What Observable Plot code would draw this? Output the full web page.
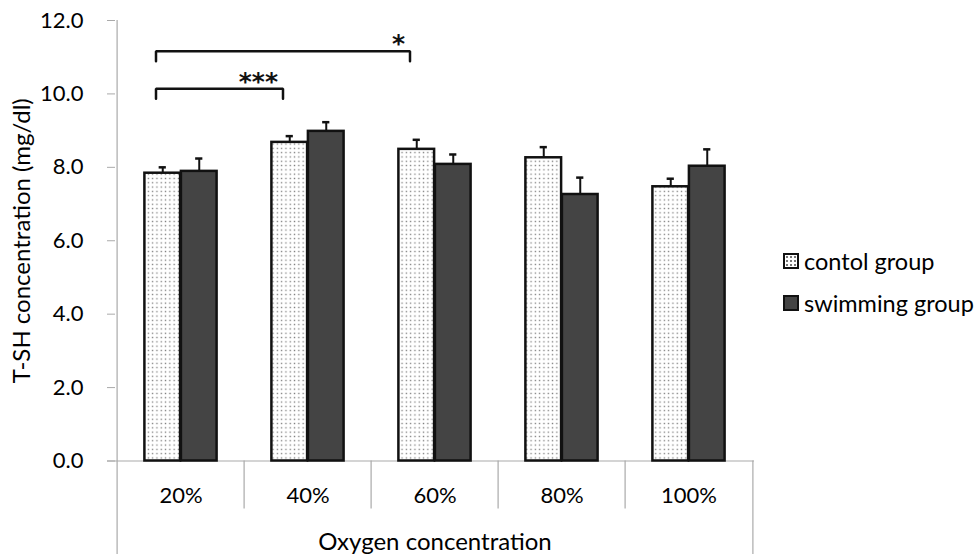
<!DOCTYPE html>
<html>
<head>
<meta charset="utf-8">
<script src="https://cdn.jsdelivr.net/npm/d3@7"></script>
<script src="https://cdn.jsdelivr.net/npm/@observablehq/plot@0.6"></script>
<style>
  html, body { margin: 0; padding: 0; background: white; }
  #wrap { position: relative; width: 979px; height: 554px; font-family: Lato, sans-serif; }
  .legend { position: absolute; left: 783px; font-size: 23.5px; color: #000; }
  .row { position: absolute; left: 0; white-space: nowrap; display: flex; align-items: center; height: 16px; line-height: 16px; }
  .sw { width: 12px; height: 12px; border: 2px solid #111; margin-right: 5px; box-sizing: content-box; flex: none; }
  .sw.control { background-color: #fff; background-image: radial-gradient(#777 0.8px, transparent 1px); background-size: 4px 4px; }
  .sw.swim { background: #444; }
</style>
</head>
<body>
<div id="wrap"></div>
<script>
const categories = ["20%", "40%", "60%", "80%", "100%"];
const controlMean = [7.84, 8.68, 8.49, 8.26, 7.47];
const controlSE   = [0.16, 0.17, 0.26, 0.29, 0.22];
const swimMean    = [7.89, 8.98, 8.08, 7.26, 8.03];
const swimSE      = [0.35, 0.25, 0.27, 0.46, 0.46];
const yTicks = [0, 2, 4, 6, 8, 10, 12];
const seriesNames = ["contol group", "swimming group"];
const sigFrom = ["20%", "20%"];
const sigTo = ["40%", "60%"];
const sigLevel = [10.14, 11.16];
const sigLabel = ["***", "*"];

const W = 979, H = 554, mL = 115, mR = 225, mT = 20, mB = 93.5;
const bw = (W - mL - mR) / categories.length;
const barW = 36.5;
const capW = 8;
const drop = 0.27;

const rows = categories.map((c, i) => ({
  cat: c, control: controlMean[i], controlTop: controlMean[i] + controlSE[i],
  swim: swimMean[i], swimTop: swimMean[i] + swimSE[i]
}));
const brackets = [];
sigFrom.forEach((f, i) => {
  brackets.push({x: f, y: sigLevel[i] - drop, k: i});
  brackets.push({x: f, y: sigLevel[i], k: i});
  brackets.push({x: sigTo[i], y: sigLevel[i], k: i});
  brackets.push({x: sigTo[i], y: sigLevel[i] - drop, k: i});
});
const sigRows = sigTo.map((t, i) => ({x: t, y: sigLevel[i], label: sigLabel[i]}));

const gray = "#aaa";
const off = barW / 2;

const plot = Plot.plot({
  width: W, height: H,
  marginLeft: mL, marginRight: mR, marginTop: mT, marginBottom: mB,
  style: {fontFamily: "Lato, sans-serif", fontSize: "22px", color: "#000", background: "white"},
  x: {type: "band", domain: categories, padding: 0},
  y: {domain: [0, 12]},
  marks: [
    // axis lines and dividers
    Plot.ruleY([0], {stroke: gray, strokeWidth: 1.2, insetLeft: -8}),
    Plot.ruleX([categories[0]], {dx: -bw / 2, stroke: gray, strokeWidth: 1.2, insetBottom: -mB}),
    Plot.ruleX([categories[categories.length - 1]], {dx: bw / 2, stroke: gray, strokeWidth: 1.2, insetTop: H - mT - mB, insetBottom: -mB}),
    Plot.ruleX(categories.slice(1), {dx: -bw / 2, stroke: gray, strokeWidth: 1.2, insetTop: H - mT - mB, insetBottom: -48}),
    Plot.axisY({ticks: yTicks, tickFormat: d3.format(".1f"), tickSize: 8, tickPadding: 24, stroke: gray, label: null, fontSize: 22, fill: "#000"}),
    Plot.axisX({tickSize: 0, tickPadding: 26, label: null, fontSize: 22, fill: "#000"}),
    // error bars
    Plot.ruleX(rows, {x: "cat", y1: "control", y2: "controlTop", dx: -off, stroke: "#111", strokeWidth: 2}),
    Plot.tickY(rows, {x: "cat", y: "controlTop", insetLeft: bw / 2 - off - capW / 2, insetRight: bw / 2 + off - capW / 2, stroke: "#111", strokeWidth: 2.5}),
    Plot.ruleX(rows, {x: "cat", y1: "swim", y2: "swimTop", dx: off, stroke: "#111", strokeWidth: 2}),
    Plot.tickY(rows, {x: "cat", y: "swimTop", insetLeft: bw / 2 + off - capW / 2, insetRight: bw / 2 - off - capW / 2, stroke: "#111", strokeWidth: 2.5}),
    // bars
    Plot.barY(rows, {x: "cat", y: "control", fill: "url(#dots)", stroke: "#111", strokeWidth: 2.5, insetLeft: bw / 2 - barW, insetRight: bw / 2}),
    Plot.barY(rows, {x: "cat", y: "swim", fill: "#444", stroke: "#111", strokeWidth: 2.5, insetLeft: bw / 2, insetRight: bw / 2 - barW}),
    // significance brackets
    Plot.line(brackets, {x: "x", y: "y", z: "k", dx: -25, stroke: "#111", strokeWidth: 2.5, curve: "linear", strokeLinejoin: "miter"}),
    Plot.text(sigRows, {x: "x", y: "y", text: "label", dx: -30, dy: 1, textAnchor: "end", lineAnchor: "bottom", fontSize: 25, fontWeight: "bold", fontFamily: "DejaVu Sans", fill: "#111"}),
    // axis titles
    Plot.text(["Oxygen concentration"], {frameAnchor: "bottom", dy: 89, text: d => d, fontSize: 24, fill: "#000"}),
    Plot.text(["T-SH concentration (mg/dl)"], {frameAnchor: "left", textAnchor: "middle", dx: -93, rotate: -90, text: d => d, fontSize: 24, fill: "#000"})
  ]
});

// dotted pattern for the control bars
const ns = "http://www.w3.org/2000/svg";
const defs = document.createElementNS(ns, "defs");
const pat = document.createElementNS(ns, "pattern");
pat.setAttribute("id", "dots");
pat.setAttribute("patternUnits", "userSpaceOnUse");
pat.setAttribute("width", "4.3");
pat.setAttribute("height", "4.3");
const bg = document.createElementNS(ns, "rect");
bg.setAttribute("width", "4.3"); bg.setAttribute("height", "4.3"); bg.setAttribute("fill", "#fff");
const dot = document.createElementNS(ns, "rect");
dot.setAttribute("x", "1.5"); dot.setAttribute("y", "1.5");
dot.setAttribute("width", "1.3"); dot.setAttribute("height", "1.3"); dot.setAttribute("fill", "#777");
pat.appendChild(bg); pat.appendChild(dot); defs.appendChild(pat);
plot.insertBefore(defs, plot.firstChild);

const wrap = document.getElementById("wrap");
wrap.appendChild(plot);

const legend = document.createElement("div");
legend.className = "legend";
legend.style.top = "0px";
const tops = [253, 295];
seriesNames.forEach((name, i) => {
  const row = document.createElement("div");
  row.className = "row";
  row.style.top = tops[i] + "px";
  const sw = document.createElement("div");
  sw.className = "sw " + (i === 0 ? "control" : "swim");
  const tx = document.createElement("span");
  tx.textContent = name;
  row.appendChild(sw); row.appendChild(tx);
  legend.appendChild(row);
});
wrap.appendChild(legend);
</script>
</body>
</html>
